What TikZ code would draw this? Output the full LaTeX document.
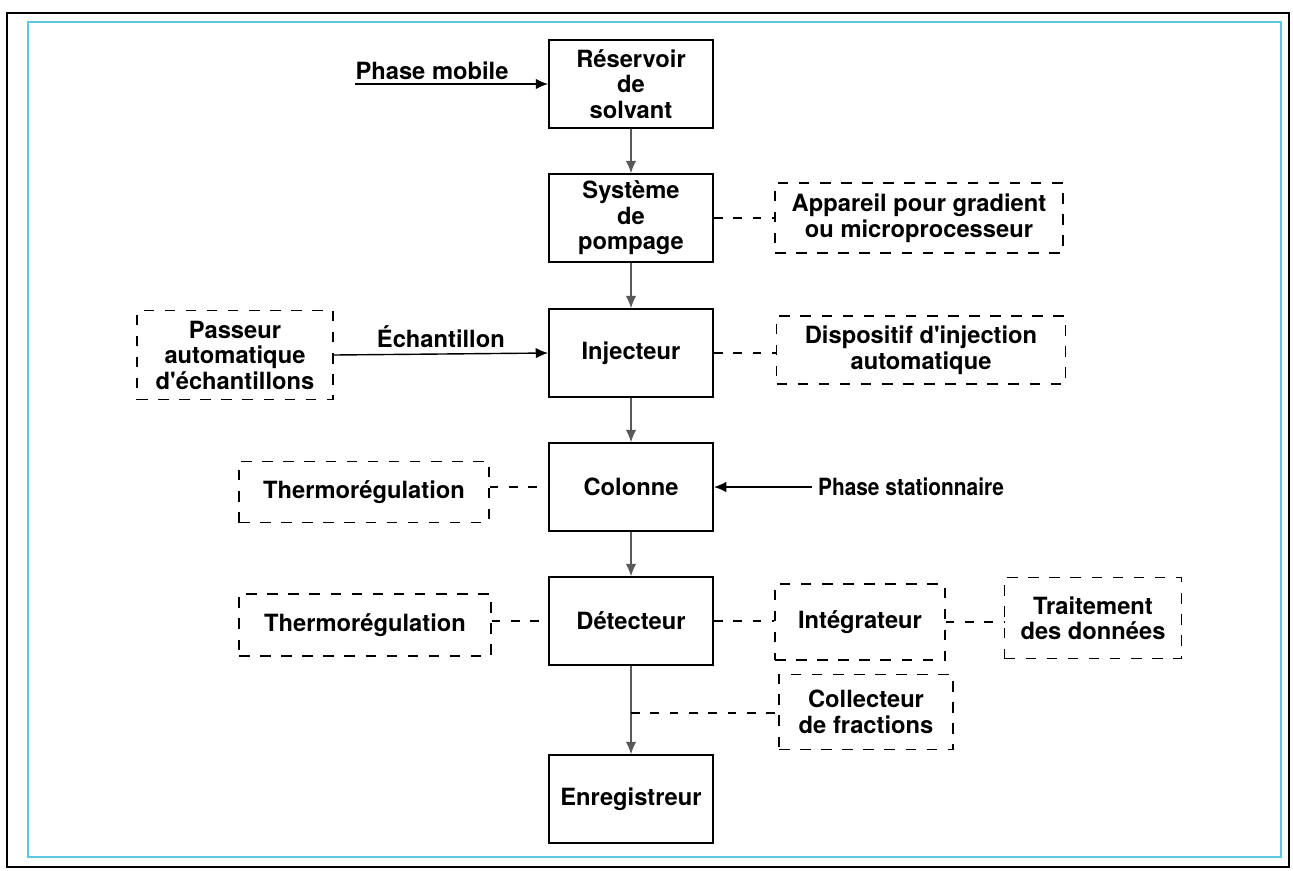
\documentclass[tikz,border=0pt]{standalone}
\usepackage{fontspec}
\setmainfont{TeX Gyre Heros}
\usetikzlibrary{arrows.meta}
\definecolor{cadre}{RGB}{95,200,225}
\newcommand\schemafont{\bfseries\fontsize{13.5}{14.5}\selectfont}

\begin{document}
\begin{tikzpicture}[x=0.02cm,y=-0.02cm]
  \tikzstyle{bloc} = [draw, line width=1.1pt, minimum width=3.28cm, minimum height=1.76cm, align=center, font=\schemafont]
  \tikzstyle{option} = [draw, line width=0.8pt, dash pattern=on 6pt off 6pt, align=center, font=\schemafont]
  \tikzstyle{texte} = [align=center, font=\schemafont]
  \tikzstyle{fleche} = [-{Latex[length=7pt,width=6pt]}, line width=0.8pt]
  \tikzstyle{flux} = [-{Latex[length=7pt,width=6pt]}, line width=0.6pt, black!65]
  \tikzstyle{lien} = [line width=0.8pt, dash pattern=on 5pt off 6pt]

  \useasboundingbox (0,0) rectangle (1293,870);
  \draw[line width=1.6pt] (7,13) rectangle (1289,867);
  \draw[cadre, line width=1.6pt] (28,22) rectangle (1281,857);

  % chaine principale
  \draw (631,84) node[bloc] (res) {R\'eservoir\\de\\solvant};
  \draw (631,218) node[bloc] (pomp) {Syst\`eme\\de\\pompage};
  \draw (631,353) node[bloc] (inj) {Injecteur};
  \draw (631,487) node[bloc] (col) {Colonne};
  \draw (631,621) node[bloc] (det) {D\'etecteur};
  \draw (631,799) node[bloc] (enr) {Enregistreur};
  \draw[flux] (res) -- (pomp);
  \draw[flux] (pomp) -- (inj);
  \draw[flux] (inj) -- (col);
  \draw[flux] (col) -- (det);
  \draw[flux] (det) -- (enr);

  % entrees
  \draw (432,71) node[texte] (pm) {Phase mobile};
  \coordinate (pmdep) at (355,84);
  \draw[fleche] (pmdep) -- (res.west);
  \draw (911,487) node[texte] (ps) {\scalebox{0.88}[1]{Phase stationnaire}};
  \draw[fleche] (ps.west) -- (col.east);

  % elements optionnels
  \draw (919,218) node[option, minimum width=5.76cm, minimum height=1.4cm] (grad) {Appareil pour gradient\\ou microprocesseur};
  \draw (921,350) node[option, minimum width=5.78cm, minimum height=1.36cm] (auto) {Dispositif d\textquotesingle injection\\automatique};
  \draw (235,355) node[option, minimum width=3.92cm, minimum height=1.78cm] (pass) {Passeur\\automatique\\d\textquotesingle\'echantillons};
  \draw (364,492) node[option, minimum width=5cm, minimum height=1.22cm] (th1) {Thermor\'egulation};
  \draw (365,625) node[option, minimum width=5.04cm, minimum height=1.24cm] (th2) {Thermor\'egulation};
  \draw (860,622) node[option, minimum width=3.4cm, minimum height=1.52cm] (integ) {Int\'egrateur};
  \draw (1093,618) node[option, minimum width=3.54cm, minimum height=1.62cm] (trait) {Traitement\\des donn\'ees};
  \draw (866,712) node[option, minimum width=3.48cm, minimum height=1.5cm] (coll) {Collecteur\\de fractions};

  \draw[fleche] (pass.east) -- node[texte, above] {\'Echantillon} (inj.west);
  \draw[lien] (pomp.east) -- (grad.west);
  \draw[lien] (inj.east) -- (auto.west |- inj.east);
  \draw[lien] (th1.east |- col.west) -- (col.west);
  \draw[lien] (th2.east |- det.west) -- (det.west);
  \draw[lien] (det.east) -- (integ.west |- det.east);
  \draw[lien] (integ.east) -- (trait.west |- integ.east);
  \coordinate (brch) at (631,713);
  \draw[lien] (brch) -- (coll.west |- brch);
\end{tikzpicture}
\end{document}
